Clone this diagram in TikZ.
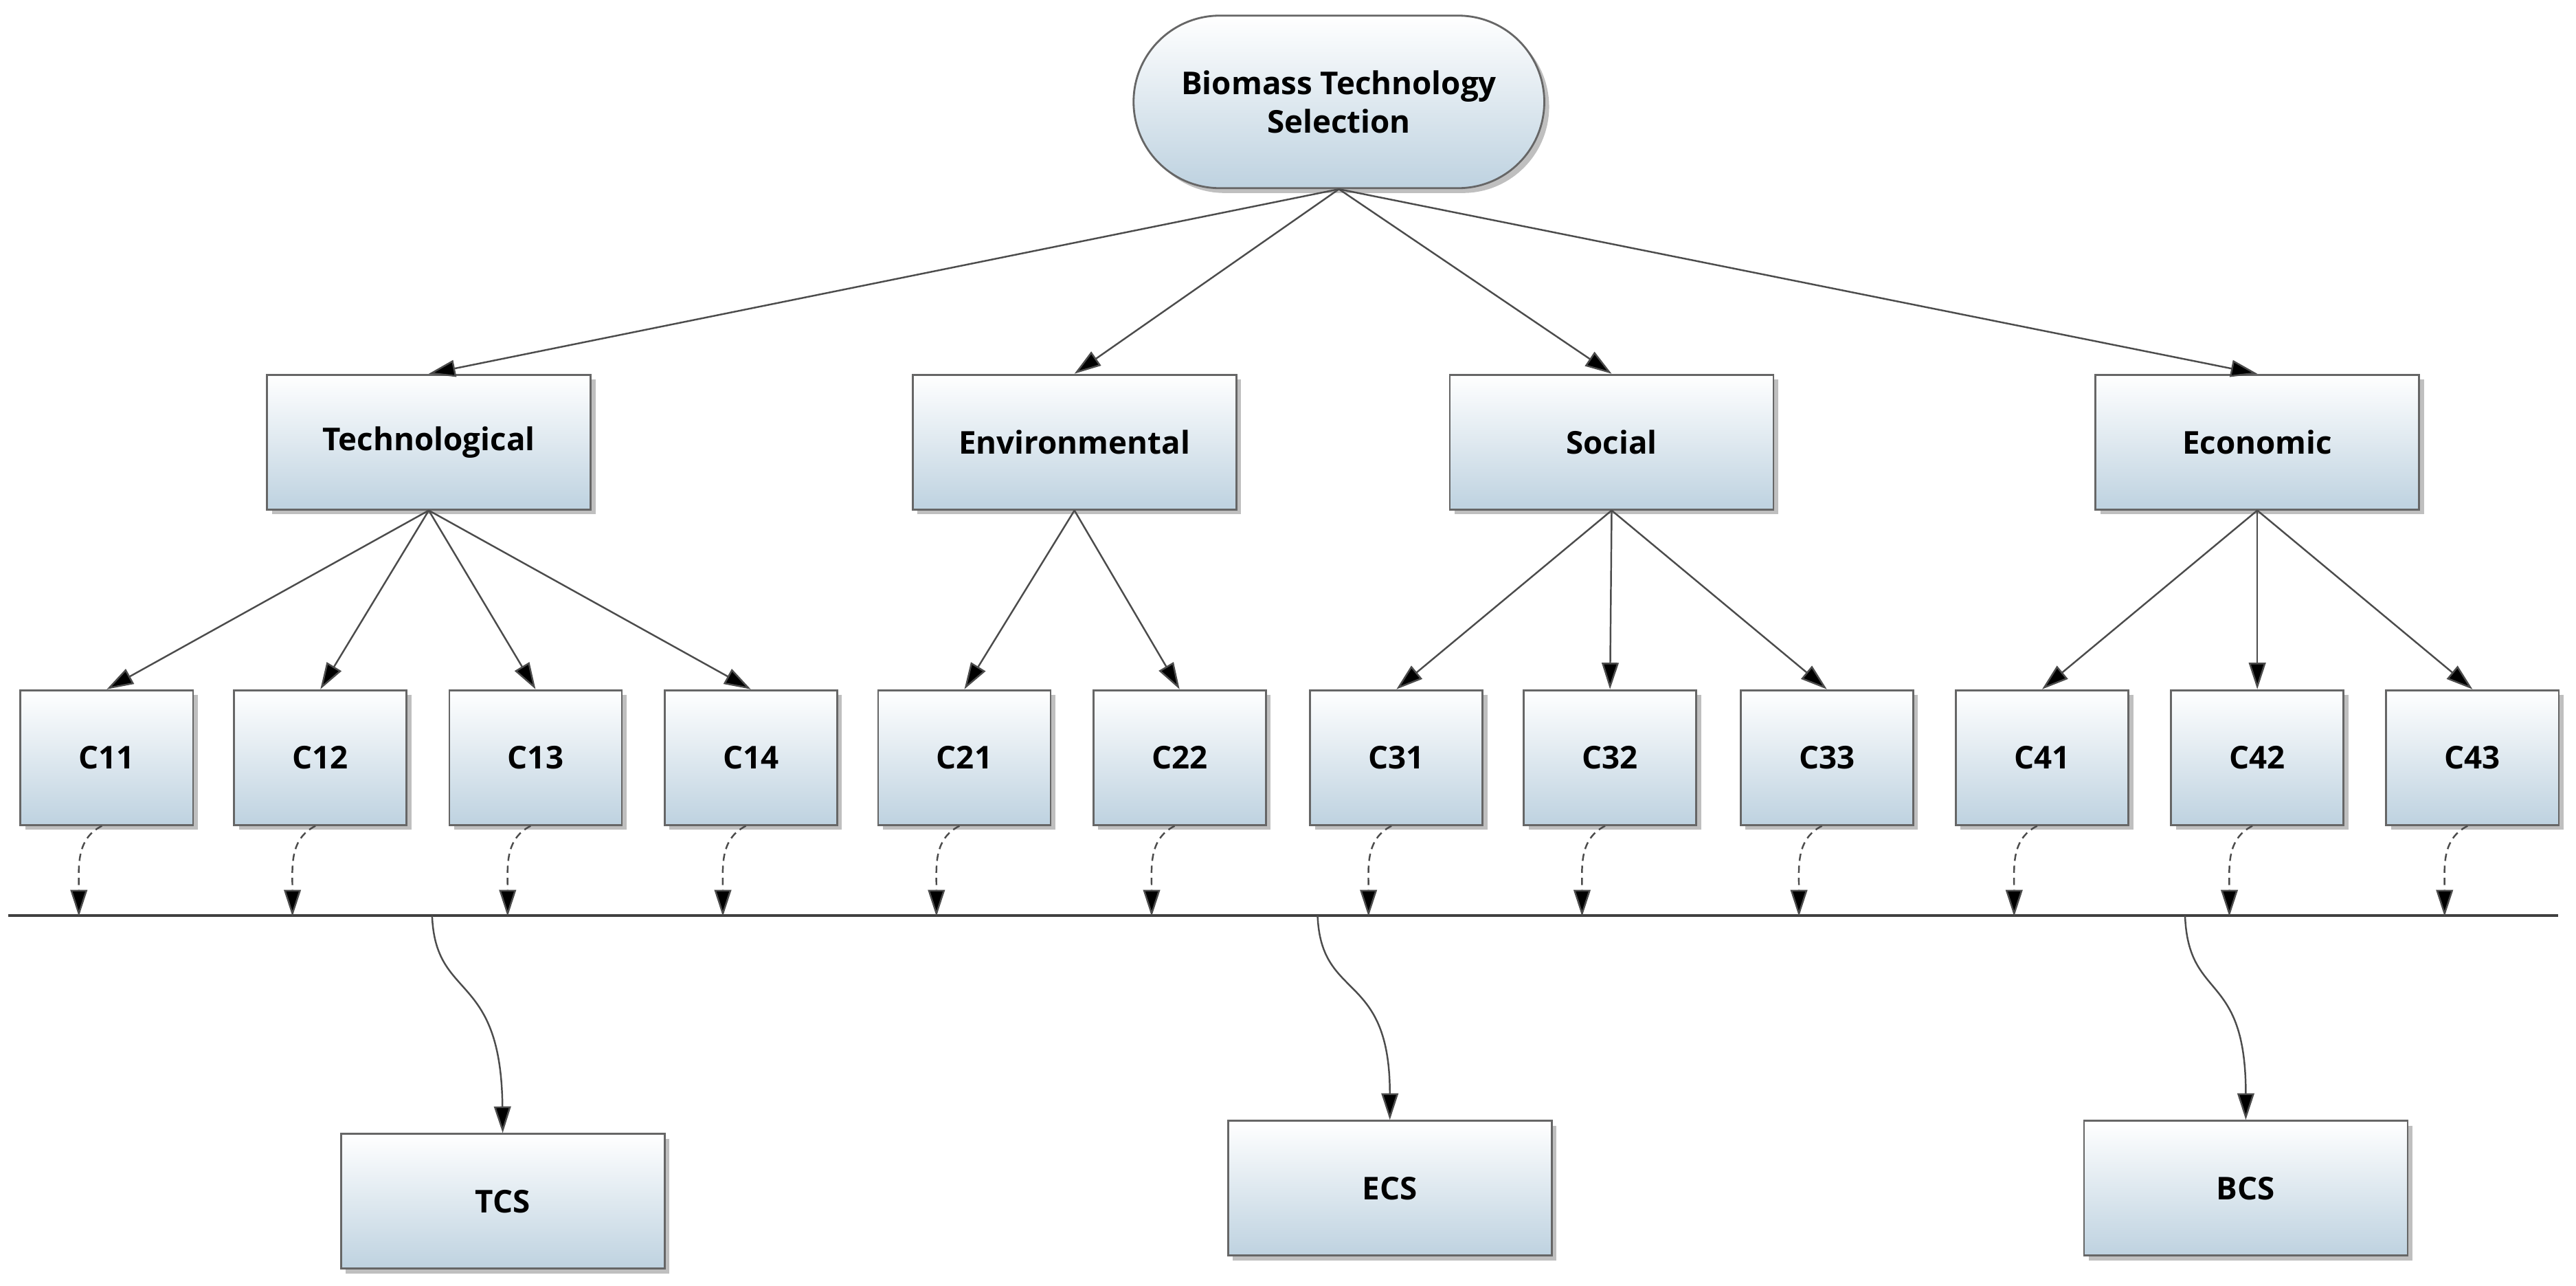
\documentclass[tikz,border=0pt]{standalone}
\usepackage{fontspec}
\setmainfont{Open Sans}
\usetikzlibrary{arrows.meta,shadows,shapes.misc}
\begin{document}
\begin{tikzpicture}[x=0.02391cm,y=-0.02391cm,
  box/.style={draw=gray!80!black,line width=0.8pt,top color=white,bottom color={rgb,255:red,190;green,210;blue,224},
    drop shadow={shadow xshift=2pt,shadow yshift=-2pt,opacity=0.5},font=\bfseries\fontsize{13}{16}\selectfont,inner sep=0pt},
  lvl/.style={box,minimum width=197*0.02391cm,minimum height=82*0.02391cm},
  cb/.style={box,minimum width=105*0.02391cm,minimum height=82*0.02391cm},
  arr/.style={draw=gray!60!black,line width=0.7pt,-{Triangle[width=7pt,length=11pt,fill=black]}},
  carr/.style={draw=gray!60!black,line width=0.7pt,densely dashed,-{Triangle[width=7pt,length=11pt,fill=black]}}]
\useasboundingbox (0,0) rectangle (1568,782.5);
\node[box,rounded rectangle,minimum width=250*0.02391cm,minimum height=105*0.02391cm,align=center] (top) at (815,62) {Biomass Technology\\Selection};
\node[lvl] (T) at (261,269) {Technological};
\node[lvl] (E) at (654,269) {Environmental};
\node[lvl] (S) at (981,269) {Social};
\node[lvl] (B) at (1374,269) {Economic};
\foreach \n/\x in {C11/65,C12/195,C13/326,C14/457,C21/587,C22/718,C31/850,C32/980,C33/1112,C41/1243,C42/1374,C43/1505}
  \node[cb] (\n) at (\x,461) {\n};
\node[lvl] (TCS) at (306,731) {TCS};
\node[lvl] (ECS) at (846,723) {ECS};
\node[lvl] (BCS) at (1367,723) {BCS};
\coordinate (L1) at (5,557); \coordinate (L2) at (1557,557);
\draw[line width=1.2pt,draw=black!75] (L1) -- (L2);
\foreach \t in {T,E,S,B} \draw[arr] (top.south) -- (\t.north);
\foreach \c in {C11,C12,C13,C14} \draw[arr] (T.south) -- (\c.north);
\foreach \c in {C21,C22} \draw[arr] (E.south) -- (\c.north);
\foreach \c in {C31,C32,C33} \draw[arr] (S.south) -- (\c.north);
\foreach \c in {C41,C42,C43} \draw[arr] (B.south) -- (\c.north);
\foreach \c in {C11,C12,C13,C14,C21,C22,C31,C32,C33,C41,C42,C43}{
  \coordinate (\c e) at ([xshift=-17*0.02391cm,yshift=-55*0.02391cm]\c.south);
  \draw[carr] ([xshift=-3*0.02391cm]\c.south) .. controls +(-16,8) and +(0,-30) .. (\c e);}
\coordinate (t1) at (263,557); \coordinate (t2) at (802,557); \coordinate (t3) at (1330,557);
\draw[arr] (t1) .. controls (265,610) and (305,590) .. (TCS.north);
\draw[arr] (t2) .. controls (804,610) and (846,590) .. (ECS.north);
\draw[arr] (t3) .. controls (1332,610) and (1367,590) .. (BCS.north);
\end{tikzpicture}
\end{document}
